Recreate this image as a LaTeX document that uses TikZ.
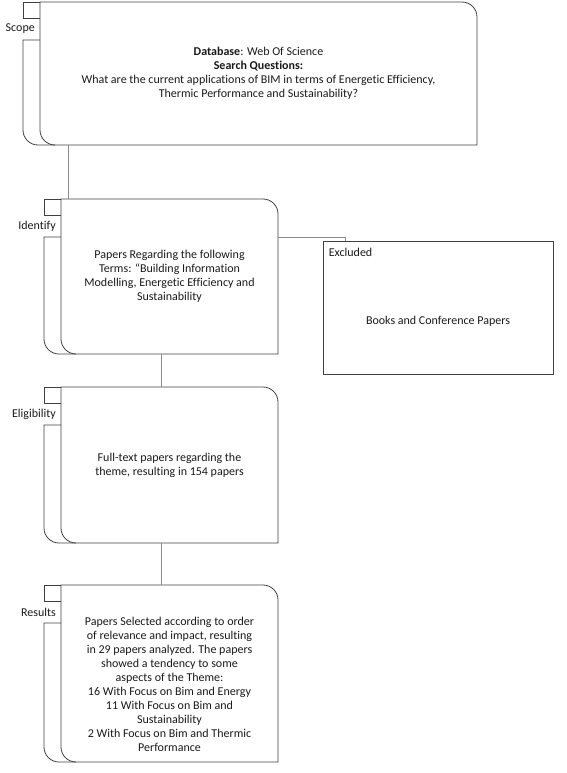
\documentclass[tikz,border=0pt]{standalone}
\usepackage{fontspec}
\setmainfont{Carlito}[Ligatures=NoCommon]
\usepackage{tikz}
\usetikzlibrary{positioning, calc}
\definecolor{edge}{HTML}{404040}
\definecolor{wire}{HTML}{8C8C8C}
\definecolor{ink}{HTML}{1A1A1A}

\begin{document}
\begin{tikzpicture}[x=1pt, y=1pt, font=\fontsize{12}{14}\selectfont, text=ink,
    card/.style={rectangle, draw=none, inner sep=0pt, outer sep=0pt, align=center},
    link/.style={wire, line width=0.9pt}]
  \useasboundingbox (0,0) rectangle (566,-773);
  % the four stage cards
  \node[card, minimum width=437, minimum height=143] (scope) at (258.5,-73.5)
    {\textbf{Database}: Web Of Science\\ \textbf{Search Questions:}\\
     What are the current applications of BIM in terms of Energetic Efficiency,\\
     Thermic Performance and Sustainability?};
  \node[card, minimum width=217, minimum height=155] (identify) at (169.5,-276.5)
    {Papers Regarding the following\\ Terms: “Building Information\\
     Modelling, Energetic Efficiency and\\ Sustainability};
  \node[card, minimum width=217, minimum height=156] (eligib) at (169.5,-465)
    {Full-text papers regarding the\\ theme, resulting in 154 papers};
  \node[card, minimum width=217, minimum height=177] (results) at (169.5,-673.5) {};
  \node[align=center, inner sep=0pt] (results-txt) at ([yshift=-10.5pt]results.center)
    {Papers Selected according to order\\ of relevance and impact, resulting\\
     in 29 papers analyzed. The papers\\ showed a tendency to some\\
     aspects of the Theme:\\ 16 With Focus on Bim and Energy\\
     11 With Focus on Bim and\\ Sustainability\\
     2 With Focus on Bim and Thermic\\ Performance};
  % outlines, back tabs and side labels
  \foreach \n/\l in {scope/Scope, identify/Identify, eligib/Eligibility, results/Results} {
    \draw[edge, line width=0.8pt] ([xshift=15pt]\n.south west)
      -- ($(\n.south west)+(-2,0)$) arc[start angle=270, end angle=180, radius=15pt]
      -- ($(\n.north west)+(-17,-38)$) -- ([yshift=-38pt]\n.north west);
    \draw[edge, line width=0.8pt] (\n.north west) -- ++(-17,0) -- ++(0,-16) -- ++(17,0);
    \draw[edge, line width=0.8pt] (\n.north west)
      -- ([xshift=-15pt]\n.north east) arc[start angle=90, end angle=0, radius=15pt]
      -- (\n.south east) -- ([xshift=15pt]\n.south west)
      arc[start angle=270, end angle=180, radius=15pt] -- cycle;
    \node[anchor=east, inner sep=0pt] (\n-lab) at ([xshift=-5pt,yshift=-27pt]\n.north west) {\l};
  }
  % excluded box
  \node[draw=edge, line width=0.8pt, minimum width=230, minimum height=133, inner sep=0pt]
    (excluded) at (438,-307.5) {};
  \node[anchor=west, inner sep=0pt] (excluded-lab) at ([xshift=6pt,yshift=-12pt]excluded.north west) {Excluded};
  \node[inner sep=0pt] (excluded-txt) at ([yshift=-13.5pt]excluded.center) {Books and Conference Papers};
  % connectors
  \draw[link] ([xshift=28pt]scope.south west) -- ([xshift=7pt]identify.north west);
  \draw[link] ([xshift=-8.5pt]identify.south) -- ([xshift=-8.5pt]eligib.north);
  \draw[link] ([xshift=-8.5pt]eligib.south) -- ([xshift=-8.5pt]results.north);
  \draw[link] ([yshift=39.5pt]identify.east) -| ([xshift=23pt]excluded.north west);
\end{tikzpicture}
\end{document}
